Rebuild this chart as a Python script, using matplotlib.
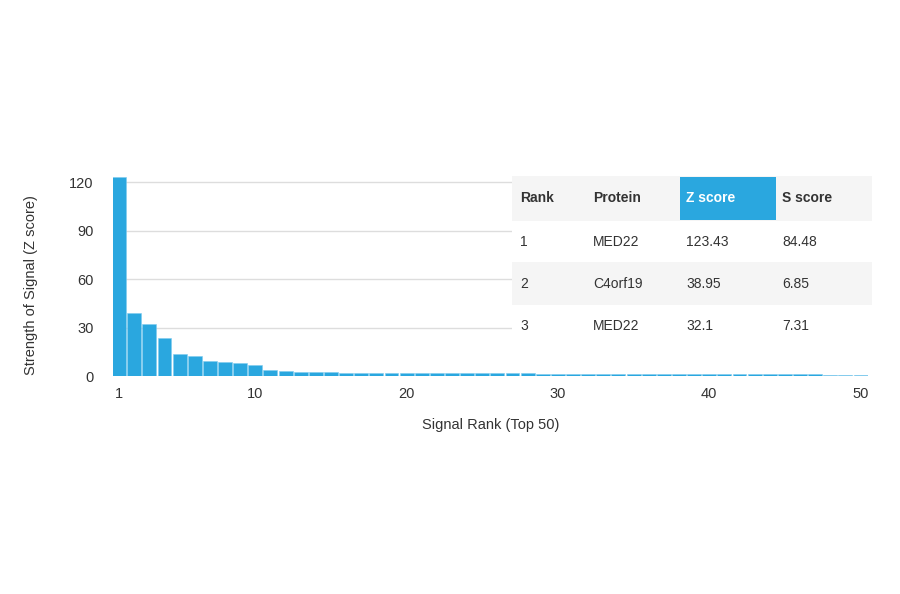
import matplotlib
matplotlib.use("Agg")
import matplotlib.pyplot as plt
from matplotlib.patches import Rectangle

plt.rcParams['font.family'] = ['Liberation Sans', 'DejaVu Sans']

ranks = list(range(1, 51))
z_scores = [123.43, 38.95, 32.1, 23.5, 13.5, 12.2, 9.2, 8.6, 8.0, 7.0,
            3.8, 3.0, 2.6, 2.3, 2.2, 2.1, 2.0, 2.0, 1.9, 1.9,
            1.8, 1.8, 1.7, 1.7, 1.7, 1.6, 1.6, 1.6, 1.5, 1.5,
            1.5, 1.4, 1.4, 1.4, 1.3, 1.3, 1.3, 1.2, 1.2, 1.2,
            1.1, 1.1, 1.1, 1.0, 1.0, 1.0, 1.0, 0.9, 0.9, 0.9]
y_ticks = [0, 30, 60, 90, 120]
x_ticks = [1, 10, 20, 30, 40, 50]

table_header = ["Rank", "Protein", "Z score", "S score"]
table_rank = ["1", "2", "3"]
table_protein = ["MED22", "C4orf19", "MED22"]
table_z = ["123.43", "38.95", "32.1"]
table_s = ["84.48", "6.85", "7.31"]

blue = "#2aa7df"
txt = "#333333"

fig = plt.figure(figsize=(9, 5.94), dpi=100)
ax = fig.add_axes([0.1256, 0.367, 0.839, 0.340])
ax.bar(ranks, z_scores, width=0.92, color=blue, edgecolor="#7fcbef", linewidth=0.4, zorder=2)
ax.set_xlim(0.6, 50.5)
ax.set_ylim(0, 125)
ax.set_yticks(y_ticks)
ax.set_xticks(x_ticks)
for s in ax.spines.values():
    s.set_visible(False)
ax.tick_params(length=0, labelsize=10.5, colors=txt, pad=8)
ax.tick_params(axis="y", pad=14)
ax.yaxis.grid(True, color="#dddddd", linewidth=1, zorder=0)
ax.set_axisbelow(True)
ax.set_xlabel("Signal Rank (Top 50)", fontsize=10.5, color=txt, labelpad=12)
fig.text(0.034, 0.52, "Strength of Signal (Z score)", rotation=90, fontsize=10.5,
         color=txt, ha="center", va="center")

# table in figure pixel coords
W, H = 900, 594
def px(x, y):
    return x / W, (H - y) / H

row_tops = [176, 221, 262, 305]
row_bots = [221, 262, 305, 346]
row_bg = ["#f5f5f5", "#ffffff", "#f5f5f5", "#ffffff"]
col_x = [520, 593, 686, 782]
tx0, tx1 = 512, 872
for top, bot, bg in zip(row_tops, row_bots, row_bg):
    x0, y0 = px(tx0, bot)
    fig.patches.append(Rectangle((x0, y0), (tx1 - tx0) / W, (bot - top) / H,
                                 transform=fig.transFigure, facecolor=bg,
                                 edgecolor="none", zorder=3))
# highlighted Z score header
x0, y0 = px(680, 220)
fig.patches.append(Rectangle((x0, y0), 96 / W, 43 / H, transform=fig.transFigure,
                             facecolor=blue, edgecolor="none", zorder=4))

rows = [table_header] + [list(r) for r in zip(table_rank, table_protein, table_z, table_s)]
for i, row in enumerate(rows):
    yc = (row_tops[i] + row_bots[i]) / 2
    for j, val in enumerate(row):
        color = "white" if (i == 0 and j == 2) else txt
        weight = "bold" if i == 0 else "normal"
        fx, fy = px(col_x[j], yc)
        fig.text(fx, fy, val, fontsize=10, color=color, weight=weight,
                 ha="left", va="center", zorder=5)

fig.savefig("out.png", dpi=100, facecolor="white")
